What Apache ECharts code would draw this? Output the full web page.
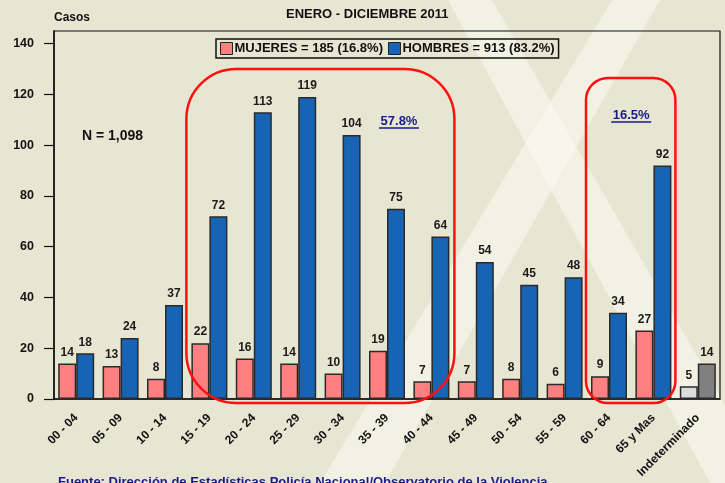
<!DOCTYPE html>
<html>
<head>
<meta charset="utf-8">
<script src="https://cdn.jsdelivr.net/npm/echarts@6/dist/echarts.min.js"></script>
<style>
  html, body { margin: 0; padding: 0; background: #e6e6d3; }
  #chart { width: 725px; height: 483px; }
</style>
</head>
<body>
<div id="chart"></div>
<script>
// datos
const categories = ['00 - 04', '05 - 09', '10 - 14', '15 - 19', '20 - 24', '25 - 29', '30 - 34',
  '35 - 39', '40 - 44', '45 - 49', '50 - 54', '55 - 59', '60 - 64', '65 y Mas', 'Indeterminado'];
const mujeres = [14, 13, 8, 22, 16, 14, 10, 19, 7, 7, 8, 6, 9, 27, 5];
const hombres = [18, 24, 37, 72, 113, 119, 104, 75, 64, 54, 45, 48, 34, 92, 14];
const yTicks = [0, 20, 40, 60, 80, 100, 120, 140];

const FONT = '"Liberation Sans", Arial, sans-serif';
const PINK = '#ff8080';
const BLUE = '#1864b4';
const NAVY = '#1a1a8c';

const chart = echarts.init(document.getElementById('chart'));

// la ultima categoria (Indeterminado) va en gris
function colorLast(values, color) {
  return values.map((v, i) => i === values.length - 1 ? { value: v, itemStyle: { color: color } } : v);
}

const barLabel = {
  show: true,
  position: 'top',
  distance: 5,
  color: '#1a1a1a',
  fontFamily: FONT,
  fontWeight: 'bold',
  fontSize: 12
};

chart.setOption({
  backgroundColor: '#e6e6d3',
  animation: false,
  textStyle: { fontFamily: FONT },
  title: {
    text: 'ENERO - DICIEMBRE 2011',
    left: 281,
    top: 3,
    textStyle: { fontFamily: FONT, fontWeight: 'bold', fontSize: 13, color: '#111' }
  },
  legend: {
    left: 216,
    top: 39,
    padding: [3, 4],
    itemGap: 5,
    itemWidth: 12,
    itemHeight: 12,
    icon: 'rect',
    borderColor: '#111',
    borderWidth: 1.5,
    itemStyle: { borderColor: '#222', borderWidth: 1 },
    textStyle: { fontFamily: FONT, fontWeight: 'bold', fontSize: 13, color: '#111', padding: [1, 0, 0, -3] }
  },
  grid: {
    left: 54,
    right: 5,
    top: 31,
    bottom: 84,
    show: true,
    borderColor: '#111',
    borderWidth: 1.2,
    backgroundColor: 'transparent'
  },
  xAxis: {
    type: 'category',
    data: categories,
    axisLine: { lineStyle: { color: '#111', width: 1.5 } },
    axisTick: { alignWithLabel: true, length: 10, lineStyle: { color: '#111', width: 1.2 } },
    axisLabel: {
      interval: 0,
      rotate: 45,
      margin: 17,
      color: '#111',
      fontFamily: FONT,
      fontWeight: 'bold',
      fontSize: 12
    }
  },
  yAxis: {
    type: 'value',
    min: 0,
    max: 145,
    name: 'Casos',
    nameLocation: 'end',
    nameGap: 7,
    nameTextStyle: { align: 'left', fontFamily: FONT, fontWeight: 'bold', fontSize: 12, color: '#111' },
    axisLine: { show: true, lineStyle: { color: '#111', width: 1.5 } },
    axisTick: { show: true, length: 10, customValues: yTicks, lineStyle: { color: '#111', width: 1.2 } },
    axisLabel: {
      customValues: yTicks,
      margin: 20,
      color: '#111',
      fontFamily: FONT,
      fontWeight: 'bold',
      fontSize: 12.5
    },
    splitLine: { show: false }
  },
  series: [
    {
      name: 'MUJERES = 185 (16.8%)',
      type: 'bar',
      data: colorLast(mujeres, '#dcdcdc'),
      barWidth: 18,
      barGap: '0%',
      itemStyle: { color: PINK, borderColor: '#2a2a2a', borderWidth: 1.5 },
      label: barLabel
    },
    {
      name: 'HOMBRES = 913 (83.2%)',
      type: 'bar',
      data: colorLast(hombres, '#808080'),
      barWidth: 18,
      itemStyle: { color: BLUE, borderColor: '#2a2a2a', borderWidth: 1.5 },
      label: barLabel
    }
  ]
});

// anotaciones: marca de agua, recuadros rojos, porcentajes, fuente
const px = (cat, val) => chart.convertToPixel({ xAxisIndex: 0, yAxisIndex: 0 }, [cat, val]);

function roundBox(fromCat, toCat, topVal, padL, padR, r) {
  const a = px(categories[fromCat], topVal);
  const b = px(categories[toCat], 0);
  return {
    type: 'rect',
    silent: true,
    z: 50,
    shape: { x: a[0] - padL, y: a[1], width: (b[0] + padR) - (a[0] - padL), height: b[1] + 4 - a[1], r: r },
    style: { fill: 'none', stroke: '#ff1010', lineWidth: 2.5 }
  };
}

function underlined(text, cx, cy) {
  return [
    {
      type: 'text',
      silent: true,
      z: 50,
      x: cx,
      y: cy,
      style: { text: text, fill: NAVY, font: 'bold 13px ' + FONT, align: 'center', verticalAlign: 'middle' }
    },
    {
      type: 'line',
      silent: true,
      z: 50,
      shape: { x1: cx - 20, y1: cy + 7, x2: cx + 20, y2: cy + 7 },
      style: { stroke: NAVY, lineWidth: 1.3 }
    }
  ];
}

const c7 = px(categories[7], 0)[0];
const c12 = px(categories[12], 0)[0];
const c13 = px(categories[13], 0)[0];

chart.setOption({
  graphic: [
    {
      type: 'polygon',
      silent: true,
      z: -10,
      shape: { points: [[448, 0], [492, 0], [770, 483], [710, 483]] },
      style: { fill: 'rgba(250,250,242,0.55)' }
    },
    {
      type: 'polygon',
      silent: true,
      z: -10,
      shape: { points: [[612, 0], [660, 0], [385, 483], [320, 483]] },
      style: { fill: 'rgba(250,250,242,0.55)' }
    },
    roundBox(3, 8, 130, 23, 23, 50),
    roundBox(12, 13, 126.5, 23, 22, 22),
    ...underlined('57.8%', c7 + 12, 121),
    ...underlined('16.5%', (c12 + c13) / 2, 115),
    {
      type: 'text',
      silent: true,
      z: 50,
      x: 82,
      y: 136,
      style: { text: 'N = 1,098', fill: '#111', font: 'bold 14px ' + FONT, verticalAlign: 'middle' }
    },
    {
      type: 'text',
      silent: true,
      z: 50,
      x: 58,
      y: 476,
      style: {
        text: 'Fuente: Dirección de Estadísticas Policía Nacional/Observatorio de la Violencia',
        fill: NAVY,
        font: 'bold 13px ' + FONT,
        verticalAlign: 'top'
      }
    }
  ]
});
</script>
</body>
</html>
